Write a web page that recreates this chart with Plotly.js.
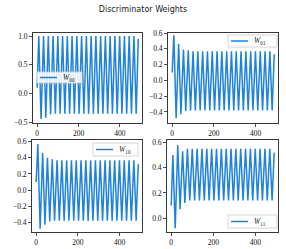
<!DOCTYPE html>
<html>
<head>
<meta charset="utf-8">
<script src="https://cdn.plot.ly/plotly-3.0.1.min.js"></script>
<style>html,body{margin:0;padding:0;background:#fff;}#chart{width:286px;height:249px;}</style>
</head>
<body>
<div id="chart"></div>
<script>
// Training steps at which each weight reaches a turning point
var steps = [0,8,19,31,42,54,65,77,88,100,111,123,134,146,157,169,180,192,203,215,226,238,249,261,272,284,295,307,318,330,341,353,364,376,387,399,410,422,433,445,456,468,479,489];

var w00 = [0.10,1.00,-0.44,1.00,-0.42,1.00,-0.36,1.00,-0.35,1.00,-0.35,1.00,-0.35,1.00,-0.35,1.00,-0.35,1.00,-0.35,1.00,-0.35,1.00,-0.35,1.00,-0.35,1.00,-0.35,1.00,-0.35,1.00,-0.35,1.00,-0.35,1.00,-0.35,1.00,-0.35,1.00,-0.35,1.00,-0.35,1.00,-0.35,0.95];
var w01 = [0.10,0.57,-0.48,0.46,-0.43,0.39,-0.39,0.38,-0.38,0.37,-0.38,0.37,-0.38,0.37,-0.38,0.37,-0.38,0.37,-0.38,0.37,-0.38,0.37,-0.38,0.37,-0.38,0.37,-0.38,0.37,-0.38,0.37,-0.38,0.37,-0.38,0.37,-0.38,0.37,-0.38,0.37,-0.38,0.37,-0.38,0.37,-0.38,0.33];
var w10 = [0.10,0.57,-0.48,0.46,-0.43,0.40,-0.39,0.38,-0.38,0.37,-0.38,0.37,-0.38,0.37,-0.38,0.37,-0.38,0.37,-0.38,0.37,-0.38,0.37,-0.38,0.37,-0.38,0.37,-0.38,0.37,-0.38,0.37,-0.38,0.37,-0.38,0.37,-0.38,0.37,-0.38,0.37,-0.38,0.37,-0.38,0.37,-0.38,0.32];
var w11 = [0.10,0.50,-0.08,0.58,0.07,0.53,0.12,0.55,0.14,0.55,0.14,0.55,0.14,0.55,0.14,0.55,0.14,0.55,0.14,0.55,0.14,0.55,0.14,0.55,0.14,0.55,0.14,0.55,0.14,0.55,0.14,0.55,0.14,0.55,0.14,0.55,0.14,0.55,0.14,0.55,0.14,0.55,0.14,0.52];

var names = ['<i>W</i><sub>00</sub>','<i>W</i><sub>01</sub>','<i>W</i><sub>10</sub>','<i>W</i><sub>11</sub>'];
var series = [w00, w01, w10, w11];
var xTicks = [0, 200, 400];
var yTicks = [[-0.5,0,0.5,1.0],[-0.4,-0.2,0,0.2,0.4,0.6],[-0.4,-0.2,0,0.2,0.4,0.6],[0,0.2,0.4,0.6]];
var yRanges = [[-0.51,1.052],[-0.54,0.6],[-0.52,0.62],[-0.11,0.62]];

var W = 286, H = 249;
function px(x){ return x / W; }
function py(y){ return 1 - y / H; }

var lineColor = '#1f82dc';
var serif = 'Liberation Serif, DejaVu Serif, serif';

var traces = series.map(function(s, i){
  var k = i === 0 ? '' : String(i+1);
  return {
    x: steps, y: s, type: 'scatter', mode: 'lines',
    name: names[i],
    line: {color: lineColor, width: 1.5},
    xaxis: 'x' + k, yaxis: 'y' + k,
    showlegend: false
  };
});

var xDomains = [[px(33),px(142)],[px(168),px(278)],[px(32),px(142)],[px(167),px(278)]];
var yDomains = [[py(123),py(33)],[py(123),py(33)],[py(232),py(140)],[py(232),py(140)]];

var layout = {
  width: W, height: H,
  margin: {l:0, r:0, t:0, b:0},
  paper_bgcolor: '#fff', plot_bgcolor: '#fff',
  showlegend: false,
  title: {text: 'Discriminator Weights', x: 0.5, xanchor: 'center', y: py(9), yanchor: 'middle',
          font: {family: 'DejaVu Sans, sans-serif', size: 8, color: '#222'}},
  shapes: [], annotations: []
};

for (var i = 0; i < 4; i++) {
  var k = i === 0 ? '' : String(i+1);
  layout['xaxis' + k] = {
    domain: xDomains[i], anchor: 'y' + k, range: [-20, 507],
    tickvals: xTicks, ticks: 'outside', ticklen: 3, tickwidth: 0.8, tickcolor: '#222',
    showline: true, mirror: true, linecolor: '#222', linewidth: 0.9,
    showgrid: false, zeroline: false,
    tickfont: {family: serif, size: 7.5, color: '#111'}
  };
  layout['yaxis' + k] = {
    domain: yDomains[i], anchor: 'x' + k, range: yRanges[i],
    tickvals: yTicks[i], tickformat: '.1f', ticks: 'outside', ticklen: 3, tickwidth: 0.8, tickcolor: '#222',
    showline: true, mirror: true, linecolor: '#222', linewidth: 0.9,
    showgrid: false, zeroline: false,
    tickfont: {family: serif, size: 7.5, color: '#111'}
  };
}

// Legend boxes (pixel boxes: left, top, right, bottom)
var legendBoxes = [[37,72,82,83],[228,35,277,47],[93,143,138,156],[228,215,277,228]];
legendBoxes.forEach(function(b, i){
  var cy = (b[1] + b[3]) / 2;
  layout.shapes.push({type:'rect', xref:'paper', yref:'paper', x0:px(b[0]), x1:px(b[2]), y0:py(b[3]), y1:py(b[1]),
    fillcolor:'rgba(255,255,255,0.85)', line:{color:'#cccccc', width:0.8}, layer:'above'});
  layout.shapes.push({type:'line', xref:'paper', yref:'paper', x0:px(b[0]+3), x1:px(b[0]+20), y0:py(cy), y1:py(cy),
    line:{color:lineColor, width:1.5}, layer:'above'});
  layout.annotations.push({xref:'paper', yref:'paper', x:px(b[0]+24), y:py(cy), xanchor:'left', yanchor:'middle',
    text:names[i], showarrow:false, font:{family:serif, size:7.5, color:'#222'}});
});

Plotly.newPlot('chart', traces, layout, {staticPlot: true, displayModeBar: false});
</script>
</body>
</html>
